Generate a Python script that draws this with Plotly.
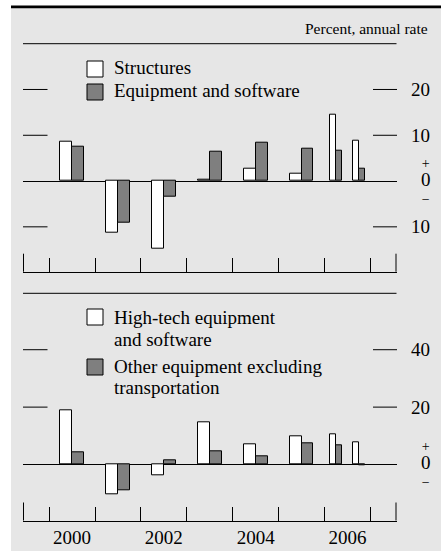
import plotly.graph_objects as go

# ---------------- data ----------------
period_labels = ["2000", "2001", "2002", "2003", "2004", "2005", "2006 H1", "2006 H2"]
period_start = [2000, 2001, 2002, 2003, 2004, 2005, 2006, 2006.5]
period_len = [1, 1, 1, 1, 1, 1, 0.5, 0.5]

structures = [8.6, -11.2, -14.8, 0.2, 2.7, 1.7, 14.4, 8.9]
equip_software = [7.5, -9.0, -3.5, 6.5, 8.3, 7.0, 6.7, 2.8]

high_tech = [19.0, -10.5, -3.6, 14.7, 7.0, 9.8, 10.6, 7.7]
other_equip = [4.3, -9.0, 1.6, 4.7, 2.9, 7.4, 6.7, -0.2]

top_ticks = [20, 10, -10]
top_ticktext = ["20", "10", "10"]
bot_ticks = [40, 20]
bot_ticktext = ["40", "20"]
year_tick_vals = [2000.5, 2002.5, 2004.5, 2006.5]
year_tick_text = ["2000", "2002", "2004", "2006"]
year_bounds = [2000, 2001, 2002, 2003, 2004, 2005, 2006, 2007]

# ---------------- layout helpers ----------------
W, H = 441, 551
FONT = "Liberation Serif, Times New Roman, serif"
WHITE = "#ffffff"
GRAY = "#7f7f7f"
BG = "#e6e6e6"


def px(x):
    return x / W


def py(y):
    return 1 - y / H


centers = [s + l / 2 for s, l in zip(period_start, period_len)]
bw = [0.26 * l for l in period_len]
off_left = [-w for w in bw]
off_right = [0 for _ in bw]

fig = go.Figure()


def add_pair(a, b, xa, ya, na, nb):
    fig.add_trace(go.Bar(x=centers, y=a, width=bw, offset=off_left, name=na,
                         marker=dict(color=WHITE, line=dict(color="black", width=1)),
                         xaxis=xa, yaxis=ya, showlegend=False, text=period_labels,
                         hoverinfo="text+y", textposition="none"))
    fig.add_trace(go.Bar(x=centers, y=b, width=bw, offset=off_right, name=nb,
                         marker=dict(color=GRAY, line=dict(color="black", width=1)),
                         xaxis=xa, yaxis=ya, showlegend=False, text=period_labels,
                         hoverinfo="text+y", textposition="none"))


add_pair(structures, equip_software, "x", "y", "Structures", "Equipment and software")
add_pair(high_tech, other_equip, "x2", "y2", "High-tech equipment and software",
         "Other equipment excluding transportation")

xdom = [px(23), px(396.5)]
xrange_ = [1999.43, 2007.57]

common_x = dict(domain=xdom, range=xrange_, showgrid=False, zeroline=False,
                showline=True, linecolor="black", linewidth=1,
                tickvals=year_tick_vals, ticktext=year_tick_text, ticks="",
                minor=dict(tickvals=year_bounds, ticks="inside", ticklen=14,
                           tickcolor="black", tickwidth=1, showgrid=False),
                tickfont=dict(family=FONT, size=19, color="black"), fixedrange=True)

fig.update_layout(
    width=W, height=H,
    margin=dict(l=0, r=0, t=0, b=0),
    paper_bgcolor="white", plot_bgcolor="rgba(0,0,0,0)",
    barmode="overlay", bargap=0,
    xaxis=dict(**common_x, anchor="y", showticklabels=False),
    yaxis=dict(domain=[py(271.7), py(43.7)], range=[-19.8, 30], showgrid=False,
               zeroline=True, zerolinecolor="black", zerolinewidth=1,
               showticklabels=False, ticks="", fixedrange=True),
    xaxis2=dict(**common_x, anchor="y2", showticklabels=True),
    yaxis2=dict(domain=[py(520.5), py(293.3)], range=[-19.5, 59.65], showgrid=False,
                zeroline=True, zerolinecolor="black", zerolinewidth=1,
                showticklabels=False, ticks="", fixedrange=True),
    showlegend=False,
)

shapes = []
# background panel and top bar
shapes.append(dict(type="rect", xref="paper", yref="paper", x0=px(11), x1=1.0,
                   y0=0, y1=py(7.5), fillcolor=BG, line=dict(width=0), layer="below"))
shapes.append(dict(type="rect", xref="paper", yref="paper", x0=px(11), x1=1.0,
                   y0=py(8.3), y1=py(5.5), fillcolor="black", line=dict(width=0), layer="below"))
# panel top rules
for ytop in (43.7, 293.3):
    shapes.append(dict(type="line", xref="paper", yref="paper", x0=px(23), x1=px(396.5),
                       y0=py(ytop), y1=py(ytop), line=dict(color="black", width=1)))
# tall end ticks
for ybase in (271.7, 520.5):
    for xe in (23.5, 396):
        shapes.append(dict(type="line", xref="paper", yref="paper", x0=px(xe), x1=px(xe),
                           y0=py(ybase), y1=py(ybase - 18), line=dict(color="black", width=1)))
# grid stubs
for yref, vals in (("y", top_ticks), ("y2", bot_ticks)):
    for v in vals:
        for xa, xb in ((23, 47.5), (373, 397)):
            shapes.append(dict(type="line", xref="paper", yref=yref, x0=px(xa), x1=px(xb),
                               y0=v, y1=v, line=dict(color="black", width=1)))
# legend swatches
for (y0, color) in ((61, WHITE), (84, GRAY), (309, WHITE), (359, GRAY)):
    shapes.append(dict(type="rect", xref="paper", yref="paper", x0=px(87), x1=px(103),
                       y0=py(y0 + 16), y1=py(y0), fillcolor=color,
                       line=dict(color="black", width=1)))
fig.update_layout(shapes=shapes)

ann = []


def text(x, y, s, size=19, xanchor="left", yref="paper", yval=None, align="left"):
    ann.append(dict(x=px(x), y=(py(y) if yval is None else yval), xref="paper", yref=yref,
                    text=s, showarrow=False, xanchor=xanchor, yanchor="middle",
                    align=align, font=dict(family=FONT, size=size, color="black")))


text(430, 29, "Percent, annual rate", size=15.5, xanchor="right")
text(112, 68, "Structures")
text(112, 91, "Equipment and software")
text(112, 317.5, "High-tech equipment")
text(112, 339, "and software")
text(112, 366, "Other equipment excluding")
text(112, 387, "transportation")

for v, t in zip(top_ticks, top_ticktext):
    text(431.5, 0, t, yref="y", yval=v, xanchor="right")
for v, t in zip(bot_ticks, bot_ticktext):
    text(431.5, 0, t, yref="y2", yval=v, xanchor="right")
# +0- markers
for yz in (181, 464.5):
    text(426, yz, "+<br><span style='font-size:19px'>0</span><br>−", size=14,
         xanchor="center", align="center")

fig.update_layout(annotations=ann)

fig.write_html("out.html", config={"displayModeBar": False},
               post_script="document.body.style.margin='0';document.body.style.overflow='hidden';")
